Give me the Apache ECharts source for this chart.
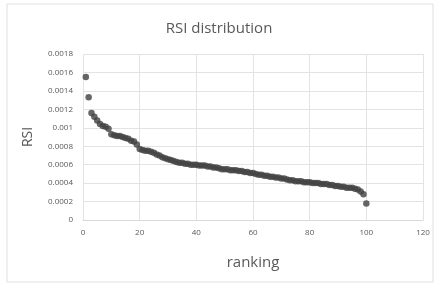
<!DOCTYPE html>
<html>
<head>
<meta charset="utf-8">
<script src="https://cdn.jsdelivr.net/npm/echarts@6/dist/echarts.min.js"></script>
<style>
  html, body { margin: 0; padding: 0; background: #fff; }
  #chart { width: 438px; height: 287px; }
</style>
</head>
<body>
<div id="chart"></div>
<script>
// RSI values by ranking (1..100)
const ranking = [];
for (let i = 1; i <= 100; i++) ranking.push(i);
const rsiValues = [
  0.00155, 0.00133, 0.00116, 0.00112, 0.00108, 0.00104, 0.00102, 0.00101, 0.00099, 0.00093,
  0.00092, 0.00091, 0.00091, 0.00090, 0.00089, 0.00088, 0.00086, 0.00085, 0.00082, 0.00077,
  0.00076, 0.00075, 0.00075, 0.00074, 0.00073, 0.00071, 0.00070, 0.00068, 0.00067, 0.00066,
  0.00065, 0.00064, 0.00063, 0.00062, 0.00062, 0.00061, 0.00061, 0.00060, 0.00060, 0.00060,
  0.00059, 0.00059, 0.00059, 0.00058, 0.00058, 0.00057, 0.00057, 0.00056, 0.00055, 0.00055,
  0.00055, 0.00054, 0.00054, 0.00054, 0.00053, 0.00053, 0.00052, 0.00052, 0.00051, 0.00051,
  0.00050, 0.00049, 0.00049, 0.00048, 0.00048, 0.00047, 0.00047, 0.00046, 0.00046, 0.00045,
  0.00045, 0.00044, 0.00043, 0.00043, 0.00042, 0.00042, 0.00042, 0.00041, 0.00041, 0.00041,
  0.00040, 0.00040, 0.00040, 0.00039, 0.00039, 0.00039, 0.00038, 0.00038, 0.00037, 0.00037,
  0.00036, 0.00036, 0.00035, 0.00035, 0.00035, 0.00034, 0.00033, 0.00031, 0.00028, 0.00018
];
const yTicks = ['0', '0.0002', '0.0004', '0.0006', '0.0008', '0.001', '0.0012', '0.0014', '0.0016', '0.0018'];

const points = ranking.map((r, i) => [r, rsiValues[i]]);
const font = '"Open Sans", "Noto Sans", sans-serif';
const textGray = '#595959';

const chart = echarts.init(document.getElementById('chart'));
chart.setOption({
  animation: false,
  backgroundColor: '#fff',
  graphic: [{
    type: 'rect',
    shape: { x: 7, y: 4, width: 426, height: 278 },
    style: { fill: 'none', stroke: '#e0e0e0', lineWidth: 1 },
    silent: true
  }],
  title: {
    text: 'RSI distribution',
    left: 'center',
    top: 16,
    textStyle: { fontFamily: font, fontSize: 15, fontWeight: 'normal', color: textGray }
  },
  grid: { left: 83, right: 15, top: 54, bottom: 67 },
  xAxis: {
    type: 'value',
    min: 0, max: 120, interval: 20,
    name: 'ranking',
    nameLocation: 'middle',
    nameGap: 35,
    nameTextStyle: { fontFamily: font, fontSize: 15, color: textGray },
    axisLine: { show: true, lineStyle: { color: '#d9d9d9' } },
    axisTick: { show: false },
    axisLabel: { fontFamily: font, fontSize: 8, color: textGray, margin: 9 },
    splitLine: { show: true, lineStyle: { color: '#e3e3e3' } }
  },
  yAxis: {
    type: 'value',
    min: 0, max: 0.0018, interval: 0.0002,
    name: 'RSI',
    nameLocation: 'middle',
    nameGap: 48,
    nameRotate: 90,
    nameTextStyle: { fontFamily: font, fontSize: 14, color: textGray },
    axisLine: { show: false },
    axisTick: { show: false },
    axisLabel: {
      fontFamily: font, fontSize: 8, color: textGray, margin: 10,
      formatter: (v) => {
        const idx = Math.round(v / 0.0002);
        return yTicks[idx] !== undefined ? yTicks[idx] : '';
      }
    },
    splitLine: { show: true, lineStyle: { color: '#e3e3e3' } }
  },
  series: [{
    type: 'scatter',
    data: points,
    symbol: 'circle',
    symbolSize: 6.5,
    itemStyle: { color: '#404040' }
  }]
});
</script>
</body>
</html>
